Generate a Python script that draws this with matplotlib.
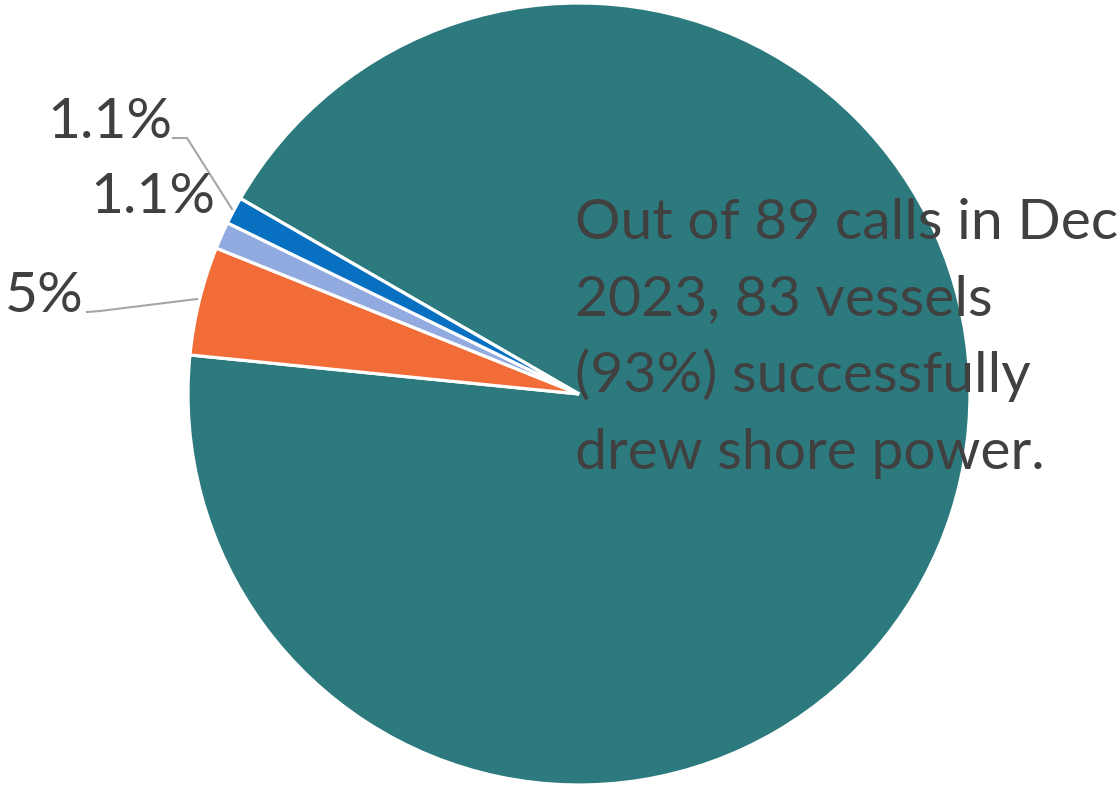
import matplotlib
matplotlib.use("Agg")
import matplotlib.pyplot as plt

# Data
categories = ["Drew shore power", "Category B", "Category C", "Category D"]
counts = [83, 4, 1, 1]
labels = ["", "5%", "1.1%", "1.1%"]
colors = ["#2D7A7E", "#F16C37", "#91AADF", "#0870C0"]
note_lines = ["Out of 89 calls in Dec", "2023, 83 vessels",
              "(93%) successfully", "drew shore power."]

W, H = 1117, 785
fig = plt.figure(figsize=(W / 100, H / 100), dpi=100)
ax = fig.add_axes([0, 0, 1, 1])
ax.set_xlim(0, W)
ax.set_ylim(0, H)
ax.set_aspect("equal")
ax.axis("off")

cx, cy, r = 579, H - 394, 391
ax.pie(counts, colors=colors, startangle=150, counterclock=False,
       center=(cx, cy), radius=r, frame=True,
       wedgeprops=dict(edgecolor="white", linewidth=2.3))
ax.set_xlim(0, W)
ax.set_ylim(0, H)
ax.axis("off")

font = "Lato"
fs = 41
tc = "#404040"
# slice labels
ax.text(47, H - 138, labels[3], fontsize=fs, family=font, color=tc, ha="left", va="baseline")
ax.text(90, H - 213, labels[2], fontsize=fs, family=font, color=tc, ha="left", va="baseline")
ax.text(5, H - 312, labels[1], fontsize=fs, family=font, color=tc, ha="left", va="baseline")

# leader lines
lc = "#A6A6A6"
ax.plot([173, 187, 232], [H - 138, H - 138, H - 209], color=lc, lw=1.5)
ax.plot([87, 100, 197], [H - 312, H - 311, H - 299], color=lc, lw=1.5)

# annotation text
for i, line in enumerate(note_lines):
    ax.text(575, H - (239 + 76.7 * i), line, fontsize=fs, family=font,
            color=tc, ha="left", va="baseline")

fig.savefig("out.png", dpi=100)
